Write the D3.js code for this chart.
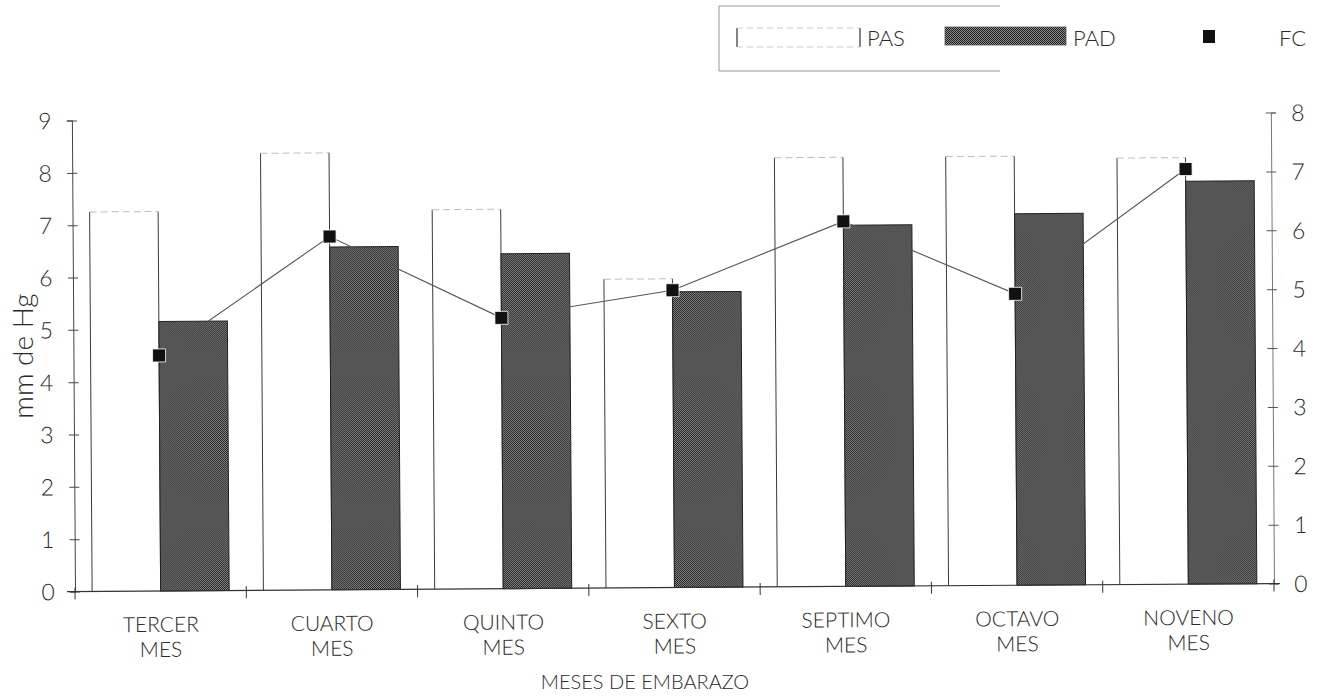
<!DOCTYPE html>
<html>
<head>
<meta charset="utf-8">
<script src="https://cdn.jsdelivr.net/npm/d3@7"></script>
<style>
  html, body { margin: 0; padding: 0; background: #fff; }
  svg { display: block; }
  text { font-family: "Lato", "Noto Sans", sans-serif; font-weight: 300; fill: #2a2a2a; }
</style>
</head>
<body>
<svg id="chart" width="1326" height="696"></svg>
<script>
// Months of pregnancy
const categories = ["TERCER MES", "CUARTO MES", "QUINTO MES", "SEXTO MES", "SEPTIMO MES", "OCTAVO MES", "NOVENO MES"];
// Systolic pressure (PAS), mm Hg – left axis
const pas = [7.25, 8.35, 7.25, 5.9, 8.2, 8.2, 8.15];
// Diastolic pressure (PAD), mm Hg – left axis
const pad = [5.15, 6.55, 6.4, 5.65, 6.9, 7.1, 7.7];
// Heart rate (FC) – right axis
const fc = [4.0, 6.0, 4.6, 5.05, 6.2, 4.95, 7.05];
const leftTicks = [0, 1, 2, 3, 4, 5, 6, 7, 8, 9];
const rightTicks = [0, 1, 2, 3, 4, 5, 6, 7, 8];

const svg = d3.select("#chart");

// Fine dot screen used for the PAD bars
const defs = svg.append("defs");
const pat = defs.append("pattern")
  .attr("id", "dots").attr("patternUnits", "userSpaceOnUse")
  .attr("width", 2).attr("height", 2);
pat.append("rect").attr("width", 2).attr("height", 2).attr("fill", "#8c8c8c");
pat.append("rect").attr("x", 0).attr("y", 0).attr("width", 1).attr("height", 1).attr("fill", "#1e1e1e");
pat.append("rect").attr("x", 1).attr("y", 1).attr("width", 1).attr("height", 1).attr("fill", "#1e1e1e");

const x0 = 75, x1 = 1274, yBase = 591.5, yTop = 120.5;

// whole plot sits slightly tilted
const g = svg.append("g").attr("transform", `rotate(-0.38 ${x0} ${yBase})`);

const x = d3.scaleBand().domain(categories).range([x0, x1]).padding(0);
const yL = d3.scaleLinear().domain([0, 9]).range([yBase, yTop]);
const yR = d3.scaleLinear().domain([0, 8]).range([yBase, yTop]);
const bw = x.bandwidth();

// PAS bars (open outline)
const pasG = g.append("g");
categories.forEach((c, i) => {
  const bx = x(c) + bw * 0.1, w = bw * 0.4, top = yL(pas[i]);
  pasG.append("rect").attr("x", bx).attr("y", top).attr("width", w).attr("height", yBase - top)
    .attr("fill", "#fff").attr("stroke", "none");
  pasG.append("path")
    .attr("d", `M${bx},${yBase}V${top}M${bx + w},${top}V${yBase}`)
    .attr("stroke", "#3a3a3a").attr("stroke-width", 1).attr("fill", "none");
  pasG.append("path")
    .attr("d", `M${bx},${top}H${bx + w}`)
    .attr("stroke", "#bdbdbd").attr("stroke-width", 1).attr("stroke-dasharray", "7 4").attr("fill", "none");
});

// PAD bars (dot screen)
g.append("g").selectAll("rect").data(categories).join("rect")
  .attr("x", c => x(c) + bw * 0.5)
  .attr("y", (c, i) => yL(pad[i]))
  .attr("width", bw * 0.4)
  .attr("height", (c, i) => yBase - yL(pad[i]))
  .attr("fill", "url(#dots)")
  .attr("stroke", "#222").attr("stroke-width", 1);

// Left axis
const axL = g.append("g").attr("transform", `translate(${x0},0)`)
  .call(d3.axisLeft(yL).tickValues(leftTicks).tickSize(5).tickPadding(20).tickFormat(d3.format("d")));
axL.select(".domain").attr("stroke", "#444");
axL.selectAll(".tick line").attr("stroke", "#444").attr("x2", -5).attr("x1", 5);
axL.selectAll(".tick text").attr("font-size", 23).attr("fill", "#2a2a2a").attr("text-anchor", "middle").attr("x", -27).attr("dy", "0.35em");

// Right axis
const axR = g.append("g").attr("transform", `translate(${x1},0)`)
  .call(d3.axisRight(yR).tickValues(rightTicks).tickSize(5).tickPadding(20).tickFormat(d3.format("d")));
axR.select(".domain").attr("stroke", "#777");
axR.selectAll(".tick line").attr("stroke", "#555").attr("x1", -5).attr("x2", 5);
axR.selectAll(".tick text").attr("font-size", 23).attr("fill", "#2a2a2a").attr("text-anchor", "middle").attr("x", 27).attr("dy", "0.35em");

// Category axis
const bounds = categories.map(c => x(c)).concat([x1]);
g.append("line").attr("x1", x0 - 8).attr("x2", x1 + 6).attr("y1", yBase).attr("y2", yBase)
  .attr("stroke", "#333").attr("stroke-width", 1.2);
g.append("g").selectAll("line").data(bounds).join("line")
  .attr("x1", d => d).attr("x2", d => d).attr("y1", yBase - 4).attr("y2", yBase + 8)
  .attr("stroke", "#333");

const lab = g.append("g").selectAll("text").data(categories).join("text")
  .attr("text-anchor", "middle").attr("font-size", 21);
lab.each(function (c) {
  const parts = c.split(" ");
  const t = d3.select(this);
  parts.forEach((p, k) => {
    t.append("tspan").attr("x", x(c) + bw / 2).attr("y", yBase + 41 + k * 25).text(p);
  });
});

// FC line and markers
const line = d3.line().x((d, i) => x(categories[i]) + bw / 2).y(d => yR(d));
g.append("path").datum(fc).attr("d", line).attr("fill", "none")
  .attr("stroke", "#555").attr("stroke-width", 1.1);
g.append("g").selectAll("rect").data(fc).join("rect")
  .attr("x", (d, i) => x(categories[i]) + bw / 2 - 6.5)
  .attr("y", d => yR(d) - 6.5)
  .attr("width", 13).attr("height", 13)
  .attr("fill", "#111").attr("stroke", "#fff").attr("stroke-width", 0.8);

// Axis titles
svg.append("text").attr("transform", "translate(33,356) rotate(-90)")
  .attr("text-anchor", "middle").attr("font-size", 28).text("mm de Hg");
svg.append("text").attr("x", 645).attr("y", 689)
  .attr("text-anchor", "middle").attr("font-size", 20).text("MESES DE EMBARAZO");

// Legend
const lg = svg.append("g");
lg.append("path").attr("d", "M1000,6H719V71H1000").attr("fill", "none")
  .attr("stroke", "#999").attr("stroke-width", 1);
lg.append("path").attr("d", "M737,28V47M860,28V47").attr("stroke", "#333").attr("stroke-width", 1.2);
lg.append("path").attr("d", "M737,28H860M737,47H860").attr("stroke", "#ccc").attr("stroke-dasharray", "6 4");
lg.append("text").attr("x", 867).attr("y", 46).attr("font-size", 22).text("PAS");
lg.append("rect").attr("x", 945).attr("y", 27).attr("width", 121).attr("height", 18)
  .attr("fill", "url(#dots)").attr("stroke", "#555").attr("stroke-width", 0.8);
lg.append("text").attr("x", 1073).attr("y", 46).attr("font-size", 22).text("PAD");
lg.append("rect").attr("x", 1203).attr("y", 30).attr("width", 12).attr("height", 13).attr("fill", "#111");
lg.append("text").attr("x", 1279).attr("y", 46).attr("font-size", 22).text("FC");
</script>
</body>
</html>
